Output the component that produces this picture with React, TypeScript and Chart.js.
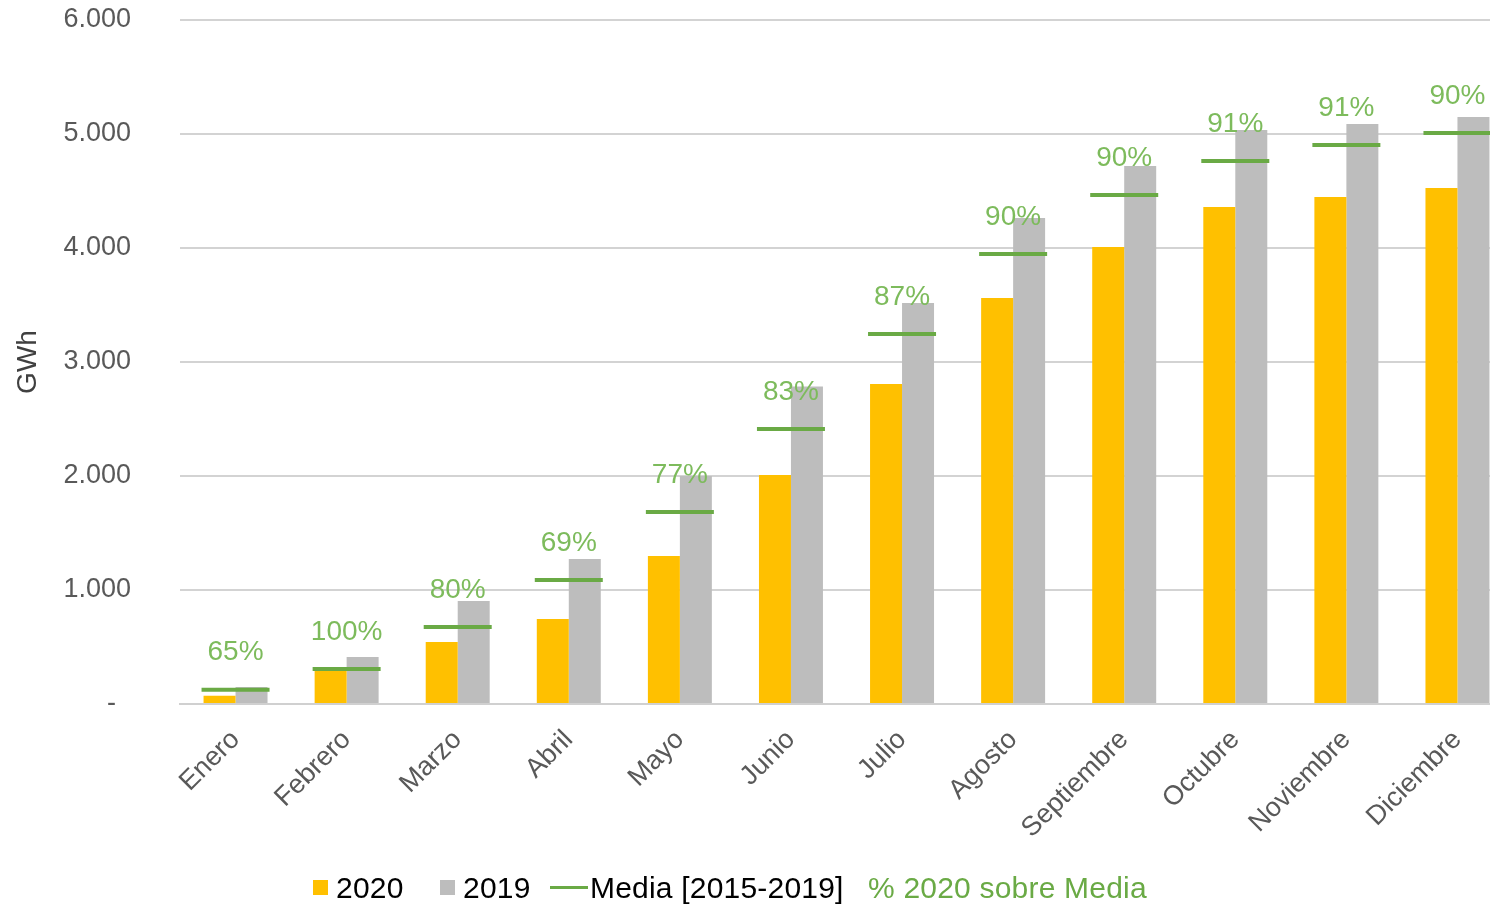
import React, { useEffect, useRef } from 'react';
import { Chart, registerables } from 'chart.js';

Chart.register(...registerables);

const months = ['Enero', 'Febrero', 'Marzo', 'Abril', 'Mayo', 'Junio', 'Julio', 'Agosto', 'Septiembre', 'Octubre', 'Noviembre', 'Diciembre'];
const values2020 = [72, 298, 544, 746, 1298, 2009, 2807, 3561, 4009, 4360, 4447, 4526];
const values2019 = [149, 412, 904, 1272, 2000, 2785, 3518, 4263, 4719, 5035, 5088, 5149];
const mediaValues = [125, 307, 675, 1088, 1684, 2412, 3246, 3947, 4465, 4763, 4904, 5009];
const pctLabels = ['65%', '100%', '80%', '69%', '77%', '83%', '87%', '90%', '90%', '91%', '91%', '90%'];
const yMax = 6000;
const yStep = 1000;

const FONT = "'Liberation Sans', Arial, sans-serif";
const ORANGE = '#FFC000';
const GREY = '#BDBDBD';
const GREEN = '#6AAA45';
const LABEL_GREEN = '#7DBB5C';
const TICK = '#595959';

const fmt = (v: number) => {
  if (v === 0) return '-  ';
  return String(v).replace(/\B(?=(\d{3})+(?!\d))/g, '.');
};

const pctPlugin = {
  id: 'pctLabels',
  afterDatasetsDraw(chart: any) {
    const meta = chart.getDatasetMeta(2);
    const ctx = chart.ctx;
    ctx.save();
    ctx.font = `28px ${FONT}`;
    ctx.fillStyle = LABEL_GREEN;
    ctx.textAlign = 'center';
    ctx.textBaseline = 'middle';
    meta.data.forEach((pt: any, i: number) => {
      ctx.fillText(pctLabels[i], pt.x, pt.y - 37);
    });
    ctx.restore();
  },
};

export default function App() {
  const ref = useRef<HTMLCanvasElement>(null);
  useEffect(() => {
    if (!ref.current) return;
    const chart = new Chart(ref.current, {
      type: 'bar',
      data: {
        labels: months,
        datasets: [
          { label: '2020', data: values2020, backgroundColor: ORANGE, categoryPercentage: 0.576, barPercentage: 1, order: 2 } as any,
          { label: '2019', data: values2019, backgroundColor: GREY, categoryPercentage: 0.576, barPercentage: 1, order: 2 } as any,
          {
            type: 'line',
            label: 'Media [2015-2019]',
            data: mediaValues,
            showLine: false,
            pointStyle: 'line',
            pointRadius: 34,
            pointHoverRadius: 34,
            borderColor: GREEN,
            backgroundColor: GREEN,
            pointBorderWidth: 4,
            borderWidth: 4,
            order: 1,
          } as any,
        ],
      },
      options: {
        responsive: false,
        animation: false,
        events: [],
        layout: { autoPadding: false, padding: { top: 20, right: 7, left: 0, bottom: 0 } },
        plugins: { legend: { display: false }, tooltip: { enabled: false } },
        scales: {
          x: {
            offset: true,
            grid: { display: false, drawTicks: false },
            border: { color: '#D0D0D0', width: 2 },
            ticks: {
              color: TICK,
              font: { family: FONT, size: 27 },
              minRotation: 45,
              maxRotation: 45,
              padding: 20,
              autoSkip: false,
            },
            afterFit: (s: any) => {
              s.height = 200;
              s.paddingLeft = 0;
              s.paddingRight = 0;
            },
          },
          y: {
            min: 0,
            max: yMax,
            grid: { color: '#D3D3D3', lineWidth: 2, drawTicks: false },
            border: { display: false },
            ticks: {
              stepSize: yStep,
              color: TICK,
              font: { family: FONT, size: 27 },
              padding: 49,
              callback: (v: any) => fmt(Number(v)),
            },
            title: {
              display: true,
              text: 'GWh',
              color: '#404040',
              font: { family: FONT, size: 28 },
              padding: { top: 11, bottom: 0 },
            },
            afterFit: (s: any) => {
              s.width = 180;
              s.paddingTop = 0;
              s.paddingBottom = 0;
            },
          },
        },
      },
      plugins: [pctPlugin],
    } as any);
    return () => chart.destroy();
  }, []);

  const legendText: React.CSSProperties = {
    position: 'absolute',
    top: 873,
    fontFamily: FONT,
    fontSize: 30,
    lineHeight: '30px',
    color: '#000',
    whiteSpace: 'nowrap',
    letterSpacing: '0.2px',
  };

  return (
    <div style={{ position: 'absolute', left: 0, top: 0, width: 1490, height: 904, overflow: 'hidden', background: '#fff' }}>
      <canvas ref={ref} width={1520} height={904} style={{ display: 'block' }} />
      <div style={{ position: 'absolute', left: 313, top: 880, width: 15, height: 15, background: ORANGE }} />
      <div style={{ ...legendText, left: 336 }}>2020</div>
      <div style={{ position: 'absolute', left: 440, top: 880, width: 15, height: 15, background: GREY }} />
      <div style={{ ...legendText, left: 463 }}>2019</div>
      <div style={{ position: 'absolute', left: 550, top: 886, width: 38, height: 3, background: GREEN }} />
      <div style={{ ...legendText, left: 590 }}>Media [2015-2019]</div>
      <div style={{ ...legendText, left: 868, color: GREEN }}>% 2020 sobre Media</div>
    </div>
  );
}
